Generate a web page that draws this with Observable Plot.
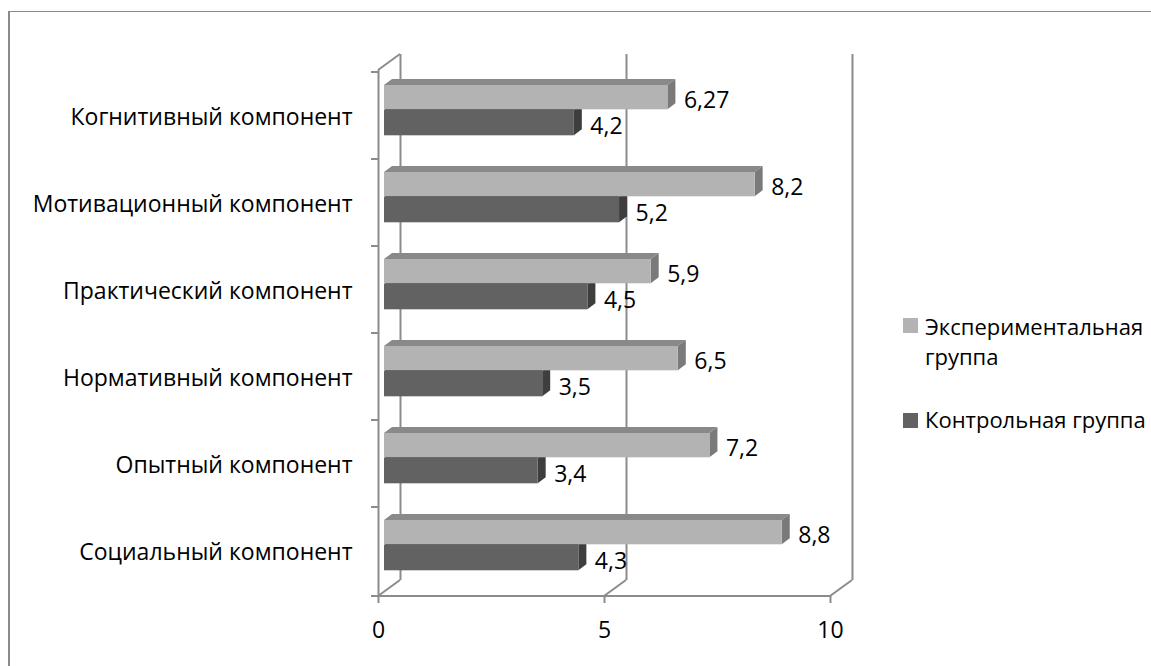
<!DOCTYPE html>
<html>
<head>
<meta charset="utf-8">
<script src="https://cdn.jsdelivr.net/npm/d3@7"></script>
<script src="https://cdn.jsdelivr.net/npm/@observablehq/plot@0.6"></script>
<style>
  body { margin: 0; width: 1151px; height: 666px; overflow: hidden; position: relative; background: #fff; font-family: "Open Sans", sans-serif; }
  #border { position: absolute; left: 8px; top: 11px; width: 1200px; height: 700px; border-left: 2px solid #8a8a8a; border-top: 1px solid #8a8a8a; }
  #chart { position: absolute; left: 0; top: 0; }
  .sw { position: absolute; left: 903px; width: 15px; height: 15px; }
  .lt { position: absolute; left: 925px; font-size: 22px; line-height: 30px; color: #000; white-space: nowrap; }
</style>
</head>
<body>
<div id="border"></div>
<div id="chart"></div>
<div id="legend"></div>
<script>
// ---- data ----
const categories = ["Когнитивный компонент", "Мотивационный компонент", "Практический компонент", "Нормативный компонент", "Опытный компонент", "Социальный компонент"];
const expValues  = [6.27, 8.2, 5.9, 6.5, 7.2, 8.8];
const ctrlValues = [4.2, 5.2, 4.5, 3.5, 3.4, 4.3];
const seriesNames = ["Экспериментальная группа", "Контрольная группа"];
const xTicks = [0, 5, 10];

// ---- styles ----
const GRID = "#8c8c8c";
const colors = {
  exp:  { front: "#b3b3b3", top: "#898989", side: "#7a7a7a" },
  ctrl: { front: "#626262", top: "#4a4a4a", side: "#3e3e3e" }
};
const BAR_DX = 6, BAR_DY = -4.5;     // bar plane offset inside the 3D box
const DEPTH_X = 8, DEPTH_Y = -6;     // bar depth
const WALL_DX = 22, WALL_DY = -16;   // box depth
const ins = { exp: [17.5, 45.2], ctrl: [42.5, 19.2] };

const fmt = v => String(v).replace(".", ",");
const expData  = categories.map((c, i) => ({ category: c, value: expValues[i] }));
const ctrlData = categories.map((c, i) => ({ category: c, value: ctrlValues[i] }));

const chart = Plot.plot({
  width: 1151, height: 666,
  marginLeft: 378, marginRight: 321, marginTop: 70, marginBottom: 70,
  style: { fontFamily: "Open Sans", fontSize: "23px", color: "#000", background: "transparent", overflow: "visible" },
  x: { domain: [0, 10], label: null },
  y: { domain: categories, padding: 0, label: null },
  marks: [
    Plot.ruleX(xTicks, { dx: WALL_DX, dy: WALL_DY, stroke: GRID, strokeWidth: 2 }),
    Plot.ruleX([0], { stroke: GRID, strokeWidth: 2 }),
    Plot.barX(ctrlData, { x: "value", y: "category", fill: colors.ctrl.front, dx: BAR_DX, dy: BAR_DY, insetTop: ins.ctrl[0], insetBottom: ins.ctrl[1] }),
    Plot.barX(expData,  { x: "value", y: "category", fill: colors.exp.front,  dx: BAR_DX, dy: BAR_DY, insetTop: ins.exp[0],  insetBottom: ins.exp[1] }),
    Plot.text(expData,  { x: "value", y: "category", text: d => fmt(d.value), dx: 22, dy: -15, textAnchor: "start", fill: "#000" }),
    Plot.text(ctrlData, { x: "value", y: "category", text: d => fmt(d.value), dx: 22, dy: 11,  textAnchor: "start", fill: "#000" }),
    Plot.axisX({ ticks: xTicks, tickSize: 7, tickPadding: 18, stroke: GRID, strokeWidth: 2, fill: "#000", tickFormat: d => String(d) }),
    Plot.axisY({ tickSize: 0, tickPadding: 26, dy: 2, fill: "#000" })
  ]
});
document.getElementById("chart").appendChild(chart);

// ---- 3D faces and box lines, drawn through Plot's own scales ----
const xs = chart.scale("x"), ys = chart.scale("y");
const X = v => xs.apply(v);
const bw = ys.bandwidth;
const [Y0, Y1] = ys.range;
const svg = d3.select(chart);
const firstBar = chart.querySelector("g[aria-label='bar']");
const back = svg.insert("g", () => firstBar);

// box lines
const lines = [];
lines.push([X(0), Y1, X(10), Y1]);
xTicks.forEach(v => lines.push([X(v), Y1, X(v) + WALL_DX, Y1 + WALL_DY]));
lines.push([X(0), Y0, X(0) + WALL_DX, Y0 + WALL_DY]);
categories.forEach(c => lines.push([X(0) - 7, ys.apply(c), X(0), ys.apply(c)]));
lines.push([X(0) - 7, Y1, X(0), Y1]);
back.selectAll("line").data(lines).join("line")
  .attr("x1", d => d[0]).attr("y1", d => d[1]).attr("x2", d => d[2]).attr("y2", d => d[3])
  .attr("stroke", GRID).attr("stroke-width", 2);

// bar top and side faces
function faces(data, key) {
  const [it, ib] = ins[key];
  data.forEach(d => {
    const yt = ys.apply(d.category) + BAR_DY + it;
    const yb = ys.apply(d.category) + bw + BAR_DY - ib;
    const x0 = X(0) + BAR_DX, xe = X(d.value) + BAR_DX;
    back.append("path").attr("fill", colors[key].top)
      .attr("d", `M${x0},${yt}L${xe},${yt}L${xe + DEPTH_X},${yt + DEPTH_Y}L${x0 + DEPTH_X},${yt + DEPTH_Y}Z`);
    back.append("path").attr("fill", colors[key].side)
      .attr("d", `M${xe},${yt}L${xe + DEPTH_X},${yt + DEPTH_Y}L${xe + DEPTH_X},${yb + DEPTH_Y}L${xe},${yb}Z`);
  });
}
faces(ctrlData, "ctrl");
faces(expData, "exp");

// ---- legend ----
const legend = document.getElementById("legend");
const legendItems = [
  { name: seriesNames[0], color: colors.exp.front, top: 311, sw: 318, html: "Экспериментальная<br>группа" },
  { name: seriesNames[1], color: colors.ctrl.front, top: 404, sw: 413, html: seriesNames[1] }
];
legendItems.forEach(it => {
  const s = document.createElement("div");
  s.className = "sw"; s.style.top = it.sw + "px"; s.style.background = it.color;
  const t = document.createElement("div");
  t.className = "lt"; t.style.top = it.top + "px"; t.innerHTML = it.html;
  legend.appendChild(s); legend.appendChild(t);
});
</script>
</body>
</html>
